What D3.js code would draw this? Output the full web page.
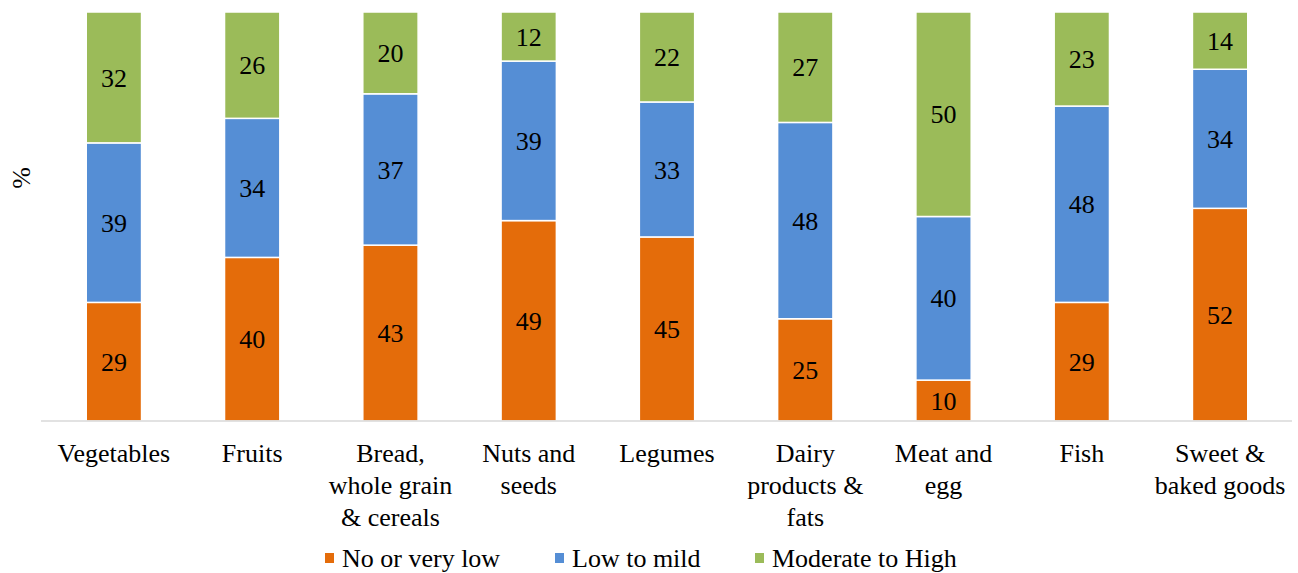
<!DOCTYPE html>
<html>
<head>
<meta charset="utf-8">
<script src="https://cdn.jsdelivr.net/npm/d3@7"></script>
<style>
  body { margin: 0; background: #fff; }
  svg text { fill: #000; }
</style>
</head>
<body>
<div id="chart"></div>
<script>
const categories = [
  ["Vegetables"],
  ["Fruits"],
  ["Bread,", "whole grain", "& cereals"],
  ["Nuts and", "seeds"],
  ["Legumes"],
  ["Dairy", "products &", "fats"],
  ["Meat and", "egg"],
  ["Fish"],
  ["Sweet &", "baked goods"]
];
const seriesNames = ["No or very low", "Low to mild", "Moderate to High"];
const noOrVeryLow = [29, 40, 43, 49, 45, 25, 10, 29, 52];
const lowToMild = [39, 34, 37, 39, 33, 48, 40, 48, 34];
const moderateToHigh = [32, 26, 20, 12, 22, 27, 50, 23, 14];
const colors = ["#E46C0A", "#558ED5", "#9BBB59"];

const fontFamily = "'Times New Roman', Tinos, 'Liberation Serif', 'Noto Serif', 'DejaVu Serif', FreeSerif, serif";

const W = 1298, H = 573;
const margin = { top: 12, right: 6, bottom: 152, left: 42 };
const iw = W - margin.left - margin.right;
const ih = H - margin.top - margin.bottom;

const rows = categories.map((c, i) => ({
  key: i,
  s0: noOrVeryLow[i],
  s1: lowToMild[i],
  s2: moderateToHigh[i]
}));

const stack = d3.stack().keys(["s0", "s1", "s2"])(rows);

const svg = d3.select("#chart").append("svg")
  .attr("width", W).attr("height", H);

const g = svg.append("g").attr("transform", `translate(${margin.left},${margin.top})`);

const x = d3.scaleBand().domain(rows.map(d => d.key)).range([0, iw])
  .paddingInner(0.6).paddingOuter(0.32);
const y = d3.scaleLinear().domain([0, 100]).range([ih, 0]);

// bars
stack.forEach((layer, li) => {
  g.append("g").selectAll("rect").data(layer).join("rect")
    .attr("x", d => x(d.data.key))
    .attr("y", d => y(d[1]))
    .attr("width", x.bandwidth())
    .attr("height", d => y(d[0]) - y(d[1]))
    .attr("fill", colors[li])
    .attr("stroke", "#fff")
    .attr("stroke-width", 1.5);

  g.append("g").selectAll("text").data(layer).join("text")
    .attr("x", d => x(d.data.key) + x.bandwidth() / 2)
    .attr("y", d => y((d[0] + d[1]) / 2))
    .attr("dy", "0.35em")
    .attr("text-anchor", "middle")
    .style("font-family", fontFamily)
    .style("font-size", "26px")
    .text(d => d[1] - d[0]);
});

// x axis
const xAxis = g.append("g").attr("transform", `translate(0,${ih})`)
  .call(d3.axisBottom(x).tickSize(0).tickFormat(""));
xAxis.select(".domain").attr("stroke", "#d9d9d9").attr("stroke-width", 1.5)
  .attr("d", `M${-1},0H${iw}`);

xAxis.selectAll(".tick").each(function(k) {
  const t = d3.select(this).append("text")
    .attr("text-anchor", "middle")
    .style("font-family", fontFamily)
    .style("font-size", "26px")
    .attr("fill", "#000");
  categories[k].forEach((line, j) => {
    t.append("tspan").attr("x", 0).attr("y", 41 + j * 32).text(line);
  });
});

// y title
svg.append("text")
  .attr("transform", "translate(30,178) rotate(-90)")
  .attr("text-anchor", "middle")
  .style("font-family", fontFamily)
  .style("font-size", "26px")
  .text("%");

// legend
const legendX = [325, 555, 755];
const legend = svg.append("g").attr("transform", "translate(0,558)");
seriesNames.forEach((name, i) => {
  legend.append("rect")
    .attr("x", legendX[i]).attr("y", -5)
    .attr("width", 9).attr("height", 10)
    .attr("fill", colors[i]);
  legend.append("text")
    .attr("x", legendX[i] + 17).attr("y", 0)
    .attr("dy", "0.35em")
    .style("font-family", fontFamily)
    .style("font-size", "26px")
    .text(name);
});
</script>
</body>
</html>
